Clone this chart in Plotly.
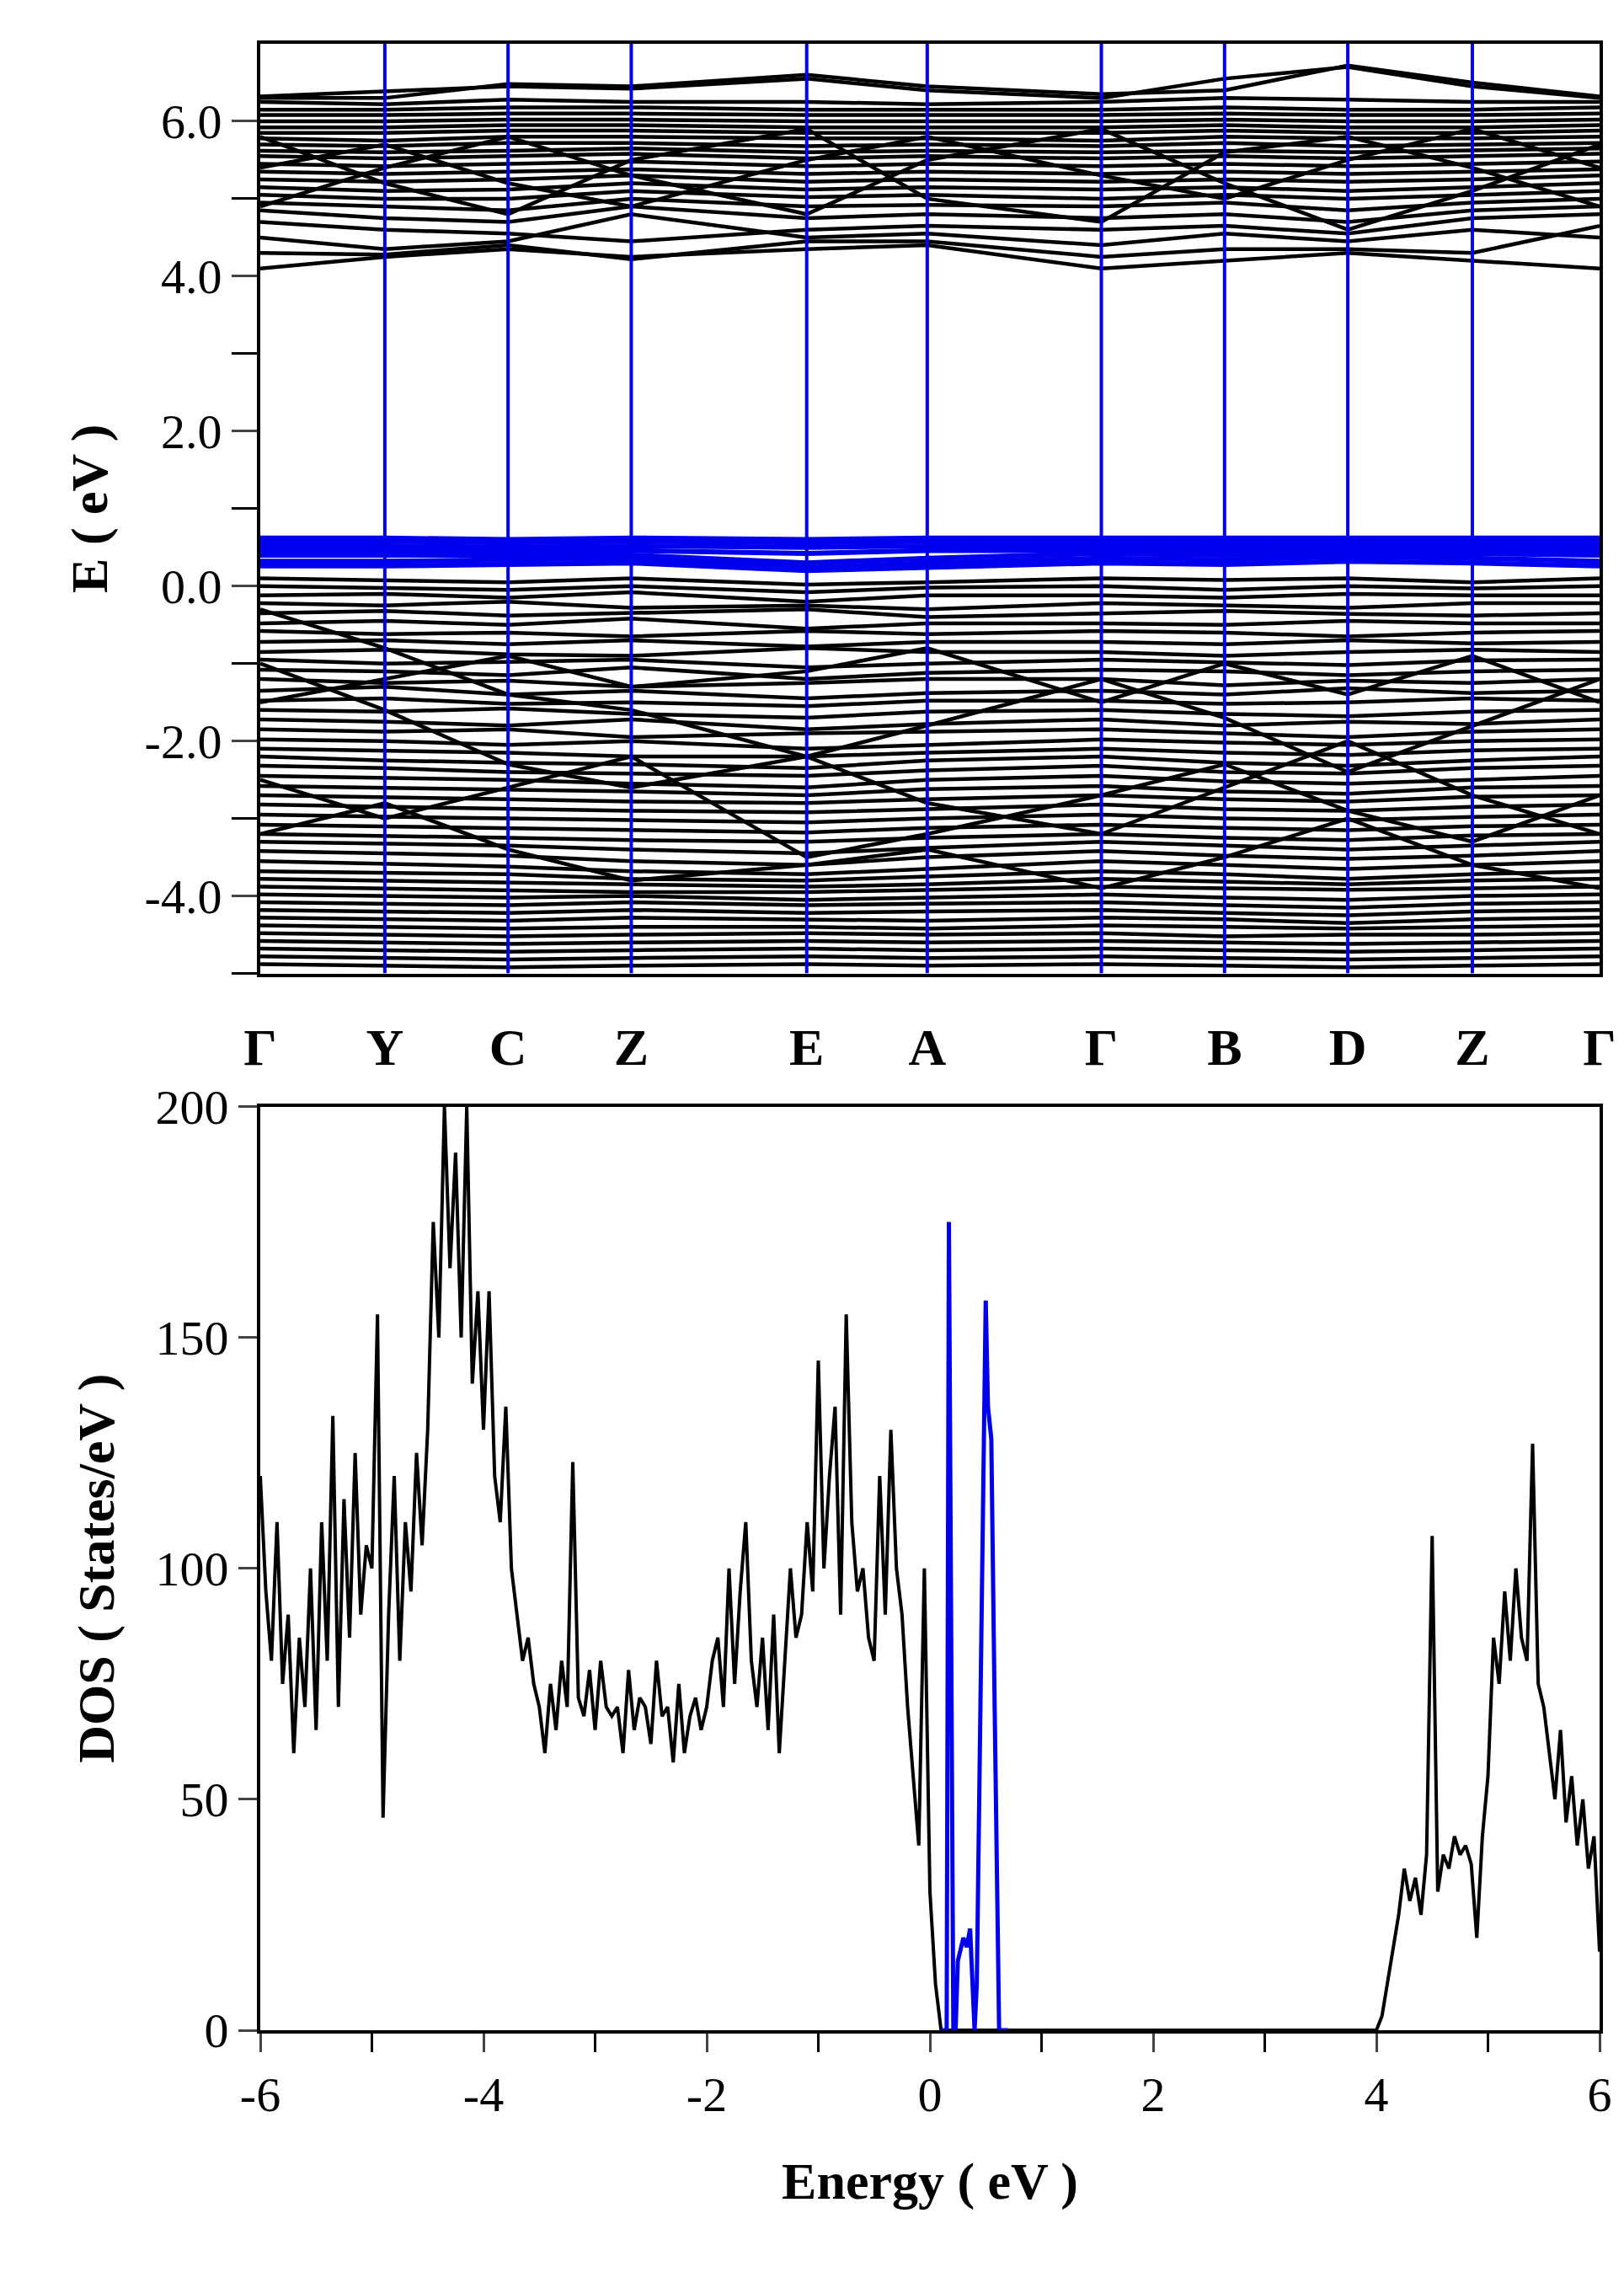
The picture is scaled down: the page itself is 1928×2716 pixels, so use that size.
import numpy as np
import plotly.graph_objects as go

# ---------------- data ----------------
k_labels = ["Γ", "Y", "C", "Z", "E", "A", "Γ", "B", "D", "Z", "Γ"]
k_pos = [0.0, 0.093, 0.185, 0.277, 0.408, 0.498, 0.628, 0.720, 0.812, 0.905, 1.0]

valence_bands = [
    [0.10, 0.08, 0.05, 0.10, 0.02, 0.05, 0.10, 0.08, 0.10, 0.05, 0.10],
    [0.00, -0.02, -0.05, 0.00, -0.08, -0.02, 0.00, -0.05, 0.00, -0.03, 0.00],
    [-0.12, -0.10, -0.15, -0.08, -0.20, -0.12, -0.12, -0.15, -0.10, -0.12, -0.12],
    [-0.22, -0.25, -0.20, -0.28, -0.25, -0.30, -0.22, -0.25, -0.28, -0.22, -0.22],
    [-0.35, -0.32, -0.38, -0.35, -0.30, -0.40, -0.35, -0.32, -0.36, -0.38, -0.35],
    [-0.48, -0.45, -0.50, -0.42, -0.55, -0.48, -0.48, -0.50, -0.45, -0.48, -0.48],
    [-0.58, -0.62, -0.60, -0.65, -0.58, -0.62, -0.58, -0.60, -0.65, -0.60, -0.58],
    [-0.72, -0.70, -0.75, -0.70, -0.78, -0.72, -0.72, -0.75, -0.70, -0.74, -0.72],
    [-0.85, -0.82, -0.88, -0.90, -0.80, -0.85, -0.85, -0.90, -0.85, -0.82, -0.85],
    [-0.95, -1.00, -0.98, -0.95, -1.05, -1.00, -0.95, -0.98, -1.02, -0.96, -0.95],
    [-1.08, -1.10, -1.15, -1.05, -1.20, -1.12, -1.08, -1.10, -1.15, -1.10, -1.08],
    [-1.20, -1.25, -1.22, -1.30, -1.25, -1.20, -1.20, -1.28, -1.22, -1.25, -1.20],
    [-1.35, -1.30, -1.40, -1.35, -1.45, -1.38, -1.35, -1.40, -1.32, -1.38, -1.35],
    [-1.48, -1.45, -1.52, -1.50, -1.55, -1.48, -1.48, -1.52, -1.50, -1.45, -1.48],
    [-1.60, -1.62, -1.58, -1.65, -1.70, -1.62, -1.60, -1.65, -1.68, -1.62, -1.60],
    [-1.72, -1.75, -1.80, -1.72, -1.85, -1.78, -1.72, -1.80, -1.75, -1.78, -1.72],
    [-1.85, -1.88, -1.85, -1.95, -1.90, -1.88, -1.85, -1.90, -1.95, -1.88, -1.85],
    [-1.98, -2.00, -2.05, -2.00, -2.10, -2.05, -1.98, -2.02, -2.05, -2.00, -1.98],
    [-2.10, -2.12, -2.15, -2.20, -2.20, -2.15, -2.10, -2.15, -2.18, -2.12, -2.10],
    [-2.20, -2.25, -2.28, -2.30, -2.35, -2.25, -2.20, -2.28, -2.32, -2.25, -2.20],
    [-2.32, -2.35, -2.40, -2.42, -2.45, -2.38, -2.32, -2.40, -2.42, -2.35, -2.32],
    [-2.45, -2.48, -2.50, -2.55, -2.60, -2.50, -2.45, -2.52, -2.55, -2.50, -2.45],
    [-2.58, -2.60, -2.62, -2.65, -2.70, -2.62, -2.58, -2.65, -2.68, -2.60, -2.58],
    [-2.70, -2.72, -2.75, -2.78, -2.80, -2.75, -2.70, -2.75, -2.78, -2.72, -2.70],
    [-2.82, -2.85, -2.88, -2.90, -2.92, -2.88, -2.82, -2.88, -2.90, -2.85, -2.82],
    [-2.95, -2.98, -3.00, -3.02, -3.05, -3.00, -2.95, -3.00, -3.02, -2.98, -2.95],
    [-3.08, -3.10, -3.12, -3.15, -3.18, -3.12, -3.08, -3.12, -3.15, -3.10, -3.08],
    [-3.20, -3.22, -3.25, -3.28, -3.30, -3.25, -3.20, -3.25, -3.28, -3.22, -3.20],
    [-3.30, -3.32, -3.35, -3.40, -3.45, -3.38, -3.30, -3.35, -3.40, -3.35, -3.30],
    [-3.42, -3.45, -3.48, -3.55, -3.60, -3.50, -3.42, -3.48, -3.52, -3.48, -3.42],
    [-3.55, -3.58, -3.62, -3.68, -3.72, -3.65, -3.55, -3.60, -3.65, -3.60, -3.55],
    [-3.68, -3.70, -3.72, -3.78, -3.80, -3.75, -3.68, -3.72, -3.78, -3.72, -3.68],
    [-3.78, -3.80, -3.82, -3.85, -3.88, -3.85, -3.78, -3.82, -3.85, -3.80, -3.78],
    [-3.88, -3.90, -3.92, -3.95, -3.95, -3.92, -3.88, -3.90, -3.92, -3.90, -3.88],
    [-3.98, -4.00, -4.02, -4.00, -4.05, -4.02, -3.98, -4.02, -4.05, -4.00, -3.98],
    [-4.08, -4.10, -4.12, -4.08, -4.12, -4.10, -4.08, -4.12, -4.15, -4.10, -4.08],
    [-4.18, -4.20, -4.22, -4.18, -4.22, -4.20, -4.18, -4.22, -4.25, -4.20, -4.18],
    [-4.28, -4.30, -4.32, -4.28, -4.30, -4.32, -4.28, -4.30, -4.35, -4.30, -4.28],
    [-4.38, -4.40, -4.42, -4.40, -4.40, -4.42, -4.38, -4.40, -4.42, -4.40, -4.38],
    [-4.48, -4.50, -4.52, -4.50, -4.48, -4.50, -4.48, -4.52, -4.50, -4.50, -4.48],
    [-4.58, -4.60, -4.62, -4.60, -4.58, -4.60, -4.58, -4.60, -4.62, -4.60, -4.58],
    [-4.68, -4.70, -4.72, -4.70, -4.68, -4.70, -4.68, -4.70, -4.72, -4.70, -4.68],
    [-4.78, -4.80, -4.82, -4.80, -4.78, -4.80, -4.78, -4.80, -4.82, -4.80, -4.78],
    [-4.88, -4.90, -4.92, -4.90, -4.88, -4.90, -4.88, -4.90, -4.92, -4.90, -4.88],
    [-0.30, -0.80, -1.40, -1.60, -2.20, -1.80, -1.20, -1.70, -2.40, -1.80, -1.20],
    [-1.00, -1.60, -2.30, -2.60, -2.20, -2.80, -3.20, -2.60, -2.00, -2.70, -3.20],
    [-2.50, -3.00, -2.60, -2.20, -3.50, -3.20, -2.70, -2.30, -2.90, -3.30, -2.70],
    [-3.20, -2.80, -3.40, -3.80, -3.60, -3.40, -3.90, -3.50, -3.00, -3.60, -3.90],
    [-1.50, -1.20, -0.90, -1.30, -1.10, -0.80, -1.50, -1.00, -1.40, -0.90, -1.50],
]

conduction_bands = [
    [4.10, 4.25, 4.35, 4.25, 4.35, 4.40, 4.10, 4.20, 4.30, 4.20, 4.10],
    [4.30, 4.28, 4.40, 4.22, 4.45, 4.45, 4.25, 4.35, 4.35, 4.30, 4.65],
    [4.50, 4.35, 4.45, 4.80, 4.50, 4.55, 4.40, 4.55, 4.45, 4.60, 4.50],
    [4.70, 4.60, 4.55, 4.45, 4.60, 4.65, 4.60, 4.65, 4.55, 4.75, 4.80],
    [4.85, 4.75, 4.70, 4.90, 4.75, 4.80, 4.75, 4.80, 4.70, 4.85, 4.90],
    [4.95, 4.90, 4.85, 5.00, 4.90, 4.92, 4.90, 4.95, 4.85, 4.95, 5.00],
    [5.05, 5.00, 5.00, 5.10, 5.02, 5.05, 5.00, 5.05, 5.00, 5.05, 5.10],
    [5.15, 5.10, 5.12, 5.20, 5.12, 5.15, 5.12, 5.15, 5.10, 5.15, 5.20],
    [5.25, 5.22, 5.25, 5.30, 5.22, 5.25, 5.22, 5.25, 5.22, 5.25, 5.30],
    [5.35, 5.32, 5.35, 5.38, 5.32, 5.35, 5.32, 5.35, 5.32, 5.35, 5.38],
    [5.45, 5.42, 5.45, 5.48, 5.42, 5.45, 5.42, 5.45, 5.42, 5.45, 5.48],
    [5.55, 5.52, 5.55, 5.58, 5.52, 5.55, 5.52, 5.55, 5.52, 5.55, 5.58],
    [5.62, 5.60, 5.62, 5.65, 5.60, 5.62, 5.60, 5.62, 5.60, 5.62, 5.65],
    [5.70, 5.68, 5.72, 5.72, 5.68, 5.70, 5.68, 5.72, 5.68, 5.70, 5.72],
    [5.78, 5.75, 5.80, 5.80, 5.78, 5.78, 5.75, 5.80, 5.78, 5.78, 5.80],
    [5.85, 5.85, 5.88, 5.88, 5.85, 5.85, 5.85, 5.88, 5.85, 5.85, 5.88],
    [5.92, 5.92, 5.95, 5.95, 5.92, 5.92, 5.92, 5.95, 5.92, 5.92, 5.95],
    [6.00, 6.00, 6.02, 6.02, 6.00, 6.00, 6.00, 6.02, 6.00, 6.00, 6.02],
    [6.08, 6.08, 6.10, 6.10, 6.08, 6.08, 6.08, 6.10, 6.08, 6.08, 6.10],
    [6.15, 6.15, 6.18, 6.18, 6.15, 6.15, 6.15, 6.18, 6.15, 6.15, 6.18],
    [6.25, 6.22, 6.28, 6.25, 6.25, 6.22, 6.25, 6.30, 6.28, 6.25, 6.25],
    [6.32, 6.38, 6.45, 6.42, 6.55, 6.40, 6.30, 6.55, 6.70, 6.45, 6.30],
    [6.30, 6.30, 6.48, 6.45, 6.60, 6.45, 6.35, 6.40, 6.72, 6.50, 6.32],
    [4.90, 5.40, 5.80, 5.30, 4.80, 5.50, 5.90, 5.20, 4.60, 5.10, 5.70],
    [5.80, 5.20, 4.80, 5.50, 5.90, 5.00, 4.70, 5.60, 5.80, 5.40, 4.90],
    [5.40, 5.70, 5.20, 4.90, 5.50, 5.80, 5.30, 5.00, 5.50, 5.90, 5.40],
]

impurity_bands = [
    [0.62, 0.62, 0.60, 0.62, 0.60, 0.62, 0.62, 0.62, 0.62, 0.62, 0.62],
    [0.58, 0.58, 0.56, 0.58, 0.56, 0.58, 0.58, 0.58, 0.58, 0.58, 0.58],
    [0.52, 0.52, 0.50, 0.52, 0.50, 0.52, 0.52, 0.52, 0.52, 0.52, 0.52],
    [0.46, 0.46, 0.45, 0.46, 0.42, 0.46, 0.46, 0.46, 0.46, 0.46, 0.46],
    [0.40, 0.40, 0.40, 0.40, 0.30, 0.36, 0.42, 0.40, 0.42, 0.42, 0.40],
    [0.32, 0.32, 0.34, 0.36, 0.24, 0.30, 0.36, 0.34, 0.38, 0.36, 0.32],
    [0.26, 0.26, 0.28, 0.30, 0.20, 0.24, 0.30, 0.28, 0.32, 0.30, 0.26],
]

# DOS on a 0.05 eV grid from -6.00 eV: valence part (-6.00 .. 0.10)
dos_valence = [
    120, 95, 80, 110, 75, 90, 60, 85, 70, 100,
    65, 110, 80, 133, 70, 115, 85, 125, 90, 105,
    100, 155, 46, 90, 120, 80, 110, 95, 125, 105,
    130, 175, 150, 200, 165, 190, 150, 200, 140, 160,
    130, 160, 120, 110, 135, 100, 90, 80, 85, 75,
    70, 60, 75, 65, 80, 70, 123, 72, 68, 78,
    65, 80, 70, 68, 70, 60, 78, 65, 72, 70,
    62, 80, 68, 70, 58, 75, 60, 68, 72, 65,
    70, 80, 85, 70, 100, 75, 95, 110, 80, 70,
    85, 65, 90, 60, 80, 100, 85, 90, 110, 95,
    145, 100, 120, 135, 90, 155, 110, 95, 100, 85,
    80, 120, 90, 130, 100, 90, 70, 55, 40, 100,
    30, 10, 0,
]
# gap: 0.15 .. 3.95 eV
dos_gap = [0] * 77
# conduction part: 4.00 .. 6.00 eV
dos_conduction = [
    0, 3, 10, 18, 25, 35, 28, 33, 25, 38,
    107, 30, 38, 35, 42, 38, 40, 36, 20, 42,
    55, 85, 75, 95, 80, 100, 85, 80, 127, 75,
    70, 60, 50, 65, 45, 55, 40, 50, 35, 42,
    17,
]
dos_total = dos_valence + dos_gap + dos_conduction
dos_energy = np.round(np.linspace(-6.0, 6.0, len(dos_total)), 3)

imp_energy = [0.10, 0.15, 0.17, 0.19, 0.21, 0.23, 0.25, 0.30, 0.33, 0.36, 0.40, 0.42, 0.45, 0.48, 0.50, 0.52, 0.55, 0.58, 0.60, 0.62, 0.65, 0.70]
imp_dos = [0, 0, 175, 70, 0, 0, 15, 20, 18, 22, 0, 10, 60, 125, 158, 135, 128, 70, 40, 0, 0, 0]

# ---------------- figure ----------------
BLUE = "#0000ee"
fig = go.Figure()
for b in valence_bands + conduction_bands:
    fig.add_trace(go.Scatter(x=k_pos, y=b, mode="lines", line=dict(color="black", width=4.5),
                             xaxis="x", yaxis="y", showlegend=False))
for b in impurity_bands:
    fig.add_trace(go.Scatter(x=k_pos, y=b, mode="lines", line=dict(color=BLUE, width=6),
                             xaxis="x", yaxis="y", showlegend=False))
for kp in k_pos[1:-1]:
    fig.add_trace(go.Scatter(x=[kp, kp], y=[-5, 7], mode="lines", line=dict(color=BLUE, width=4),
                             xaxis="x", yaxis="y", showlegend=False))

fig.add_trace(go.Scatter(x=dos_energy, y=dos_total, mode="lines", line=dict(color="black", width=4),
                         xaxis="x2", yaxis="y2", showlegend=False))
fig.add_trace(go.Scatter(x=imp_energy, y=imp_dos, mode="lines", line=dict(color=BLUE, width=5),
                         xaxis="x2", yaxis="y2", showlegend=False))

tickfont = dict(family="Liberation Serif", size=58, color="black")
boldfont = dict(family="Liberation Serif", size=62, color="black")

fig.update_layout(
    width=1928, height=2716,
    margin=dict(l=301, r=37, t=38, b=314),
    paper_bgcolor="white", plot_bgcolor="white",
    xaxis=dict(domain=[0, 1], range=[0, 1], anchor="y", tickmode="array",
               tickvals=k_pos, ticktext=["<b>%s</b>" % s for s in k_labels],
               tickfont=boldfont, ticks="", showgrid=False, zeroline=False,
               showline=True, linecolor="black", linewidth=4, mirror=True, ticklabelstandoff=30),
    yaxis=dict(domain=[0.532, 1], range=[-5, 7], anchor="x", tickmode="array",
               tickvals=[-4, -2, 0, 2, 4, 6], ticktext=["-4.0", "-2.0", "0.0", "2.0", "4.0", "6.0"],
               tickfont=tickfont, ticks="outside", ticklen=30, tickwidth=3,
               minor=dict(tickvals=[-5, -3, -1, 1, 3, 5], ticks="outside", ticklen=30, tickwidth=3, tickcolor="black"),
               showgrid=False, zeroline=False, showline=True, linecolor="black", linewidth=4, mirror=True,
               title=dict(text="<b>E ( eV )</b>", font=boldfont, standoff=25)),
    xaxis2=dict(domain=[0, 1], range=[-6, 6], anchor="y2", tickmode="array",
                tickvals=[-6, -4, -2, 0, 2, 4, 6], ticktext=["-6", "-4", "-2", "0", "2", "4", "6"],
                tickfont=tickfont, ticks="outside", ticklen=22, tickwidth=3,
                minor=dict(tickvals=[-5, -3, -1, 1, 3, 5], ticks="outside", ticklen=22, tickwidth=3, tickcolor="black"),
                showgrid=False, zeroline=False, showline=True, linecolor="black", linewidth=4, mirror=True,
                title=dict(text="<b>Energy ( eV )</b>", font=boldfont, standoff=50)),
    yaxis2=dict(domain=[0, 0.465], range=[0, 200], anchor="x2", tickmode="array",
                tickvals=[0, 50, 100, 150, 200], tickfont=tickfont, ticks="outside", ticklen=22, tickwidth=3,
                showgrid=False, zeroline=False, showline=True, linecolor="black", linewidth=4, mirror=True,
                title=dict(text="<b>DOS ( States/eV )</b>", font=boldfont, standoff=30)),
)

fig.write_html("out.html")
